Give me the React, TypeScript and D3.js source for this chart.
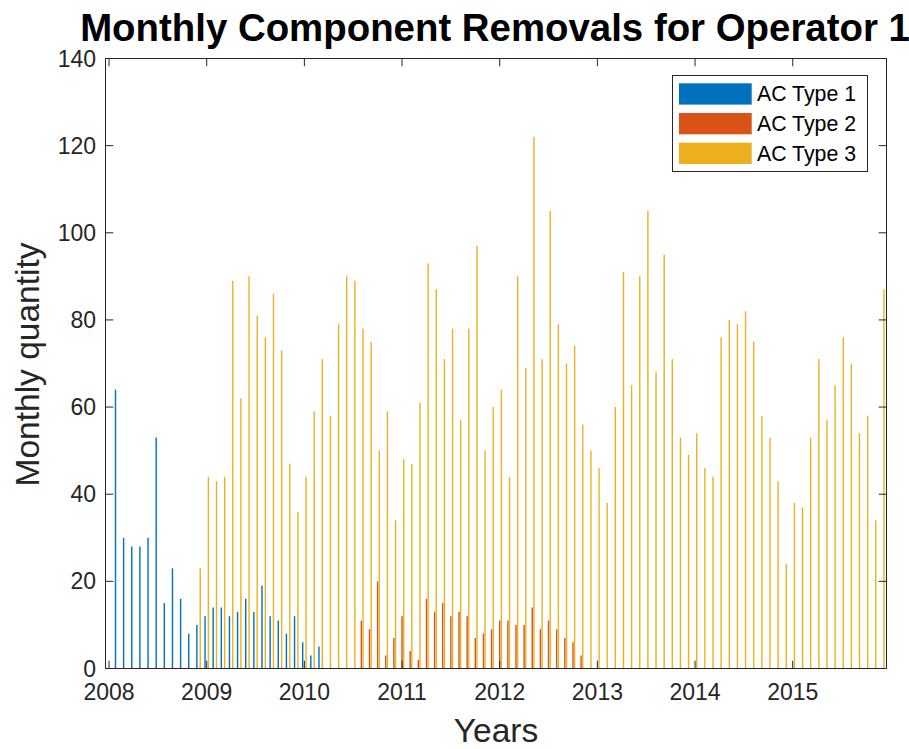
import React from "react";
import * as d3 from "d3";

// ---- Data ----
const seriesNames = ["AC Type 1", "AC Type 2", "AC Type 3"];
const seriesColors = ["#0072BD", "#D95319", "#EDB120"];
const yearTicks = [2008, 2009, 2010, 2011, 2012, 2013, 2014, 2015];
const yTicks = [0, 20, 40, 60, 80, 100, 120, 140];

// monthly values, Jan 2008 .. Nov 2015 (95 months)
const acType1 = [
  64, 30, 28, 28, 30, 53, 15, 23, 16, 8, 10, 12, 14, 14, 12, 13, 16, 13, 19, 12,
  11, 8, 12, 6, 3, 5, 0, 0, 0, 0, 0, 0, 0, 0, 0, 0, 0, 0, 0, 0,
  0, 0, 0, 0, 0, 0, 0, 0, 0, 0, 0, 0, 0, 0, 0, 0, 0, 0, 0, 0,
  0, 0, 0, 0, 0, 0, 0, 0, 0, 0, 0, 0, 0, 0, 0, 0, 0, 0, 0, 0,
  0, 0, 0, 0, 0, 0, 0, 0, 0, 0, 0, 0, 0, 0, 0,
];
const acType2 = [
  0, 0, 0, 0, 0, 0, 0, 0, 0, 0, 0, 0, 0, 0, 0, 0, 0, 0, 0, 0,
  0, 0, 0, 0, 0, 0, 0, 0, 0, 0, 11, 9, 20, 3, 7, 12, 4, 2, 16, 13,
  15, 12, 13, 12, 7, 8, 9, 11, 11, 10, 10, 14, 9, 11, 9, 7, 6, 3, 0, 0,
  0, 0, 0, 0, 0, 0, 0, 0, 0, 0, 0, 0, 0, 0, 0, 0, 0, 0, 0, 0,
  0, 0, 0, 0, 0, 0, 0, 0, 0, 0, 0, 0, 0, 0, 0,
];
const acType3 = [
  0, 0, 0, 0, 0, 0, 0, 0, 0, 0, 23, 44, 43, 44, 89, 62, 90, 81, 76, 86,
  73, 47, 36, 44, 59, 71, 58, 79, 90, 89, 78, 75, 50, 59, 34, 48, 47, 61, 93, 87,
  71, 78, 57, 78, 97, 50, 60, 64, 44, 90, 69, 122, 71, 105, 79, 70, 74, 56, 50, 46,
  38, 60, 91, 65, 90, 105, 68, 95, 71, 53, 49, 54, 46, 44, 76, 80, 79, 82, 75, 58,
  53, 43, 24, 38, 37, 53, 71, 57, 65, 76, 70, 54, 58, 34, 87,
];
const allSeries = [acType1, acType2, acType3];

const W = 909;
const H = 749;
const M = { left: 105.5, right: 886.5, top: 58.5, bottom: 668.5 };
const AX = "#262626";
const FONT = "'Liberation Sans', Arial, Helvetica, sans-serif";

export default function App() {
  const x = d3.scaleLinear().domain([2007.964, 2015.96]).range([M.left, M.right]);
  const y = d3.scaleLinear().domain([0, 140]).range([M.bottom, M.top]);

  const groupPos = (i: number) => x(2008 + (i + 1) / 12);
  const barStep = 1.67;
  const barW = 1.4;
  const tickLen = 7.8;

  return (
    <svg
      width={W}
      height={H}
      style={{ position: "absolute", left: 0, top: 0, background: "#fff" }}
      fontFamily={FONT}
    >
      <rect x={0} y={0} width={W} height={H} fill="#fff" />
      {/* bars */}
      {allSeries.map((vals, s) => (
        <g key={s} fill={seriesColors[s]}>
          {vals.map((v, i) =>
            v > 0 ? (
              <rect
                key={i}
                x={groupPos(i) + (s - 1) * barStep - barW / 2}
                y={y(v)}
                width={barW}
                height={y(0) - y(v)}
              />
            ) : null
          )}
        </g>
      ))}

      {/* axes box */}
      <rect
        x={M.left}
        y={M.top}
        width={M.right - M.left}
        height={M.bottom - M.top}
        fill="none"
        stroke={AX}
        strokeWidth={1}
      />
      {/* x ticks */}
      {yearTicks.map((t) => (
        <g key={t}>
          <line x1={x(t)} x2={x(t)} y1={M.bottom} y2={M.bottom - tickLen} stroke={AX} strokeWidth={1} />
          <line x1={x(t)} x2={x(t)} y1={M.top} y2={M.top + tickLen} stroke={AX} strokeWidth={1} />
          <text x={x(t)} y={700} textAnchor="middle" fontSize={23} fill={AX}>
            {t}
          </text>
        </g>
      ))}
      {/* y ticks */}
      {yTicks.map((t) => (
        <g key={t}>
          <line x1={M.left} x2={M.left + tickLen} y1={y(t)} y2={y(t)} stroke={AX} strokeWidth={1} />
          <line x1={M.right} x2={M.right - tickLen} y1={y(t)} y2={y(t)} stroke={AX} strokeWidth={1} />
          <text x={96} y={y(t) + 8} textAnchor="end" fontSize={23} fill={AX}>
            {t}
          </text>
        </g>
      ))}

      {/* title */}
      <text
        x={(M.left + M.right) / 2 - 1}
        y={41}
        textAnchor="middle"
        fontSize={38.4}
        fontWeight="bold"
        fill="#000"
      >
        Monthly Component Removals for Operator 1
      </text>
      {/* axis labels */}
      <text x={(M.left + M.right) / 2} y={742} textAnchor="middle" fontSize={33.5} fill={AX}>
        Years
      </text>
      <text
        transform={`translate(39, ${(M.top + M.bottom) / 2 + 1}) rotate(-90)`}
        textAnchor="middle"
        fontSize={33.5}
        fill={AX}
      >
        Monthly quantity
      </text>

      {/* legend */}
      <g>
        <rect x={672.5} y={75.5} width={195} height={96} fill="#fff" stroke={AX} strokeWidth={1} />
        {seriesNames.map((name, s) => (
          <g key={name} transform={`translate(0, ${83.3 + s * 29.7})`}>
            <rect x={679} y={0} width={72.7} height={21.3} fill={seriesColors[s]} />
            <text x={757} y={18} fontSize={21.3} fill="#000">
              {name}
            </text>
          </g>
        ))}
      </g>
    </svg>
  );
}
